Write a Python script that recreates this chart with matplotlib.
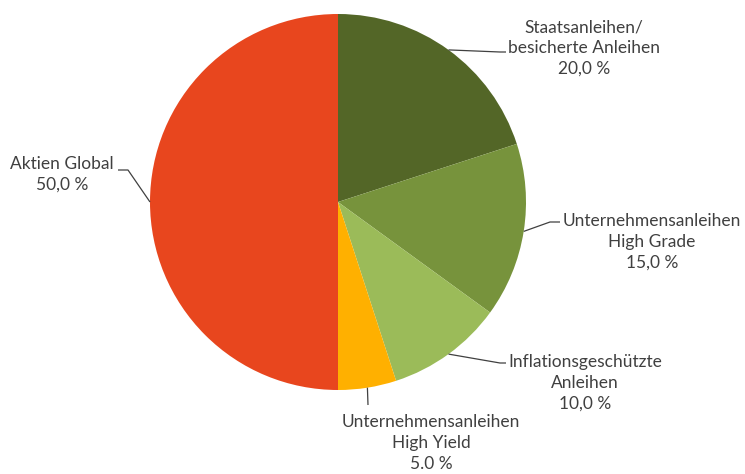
import numpy as np
import matplotlib.pyplot as plt

labels = ["Staatsanleihen/\nbesicherte Anleihen", "Unternehmensanleihen\nHigh Grade",
          "Inflationsgeschützte\nAnleihen", "Unternehmensanleihen\nHigh Yield", "Aktien Global"]
values = [20.0, 15.0, 10.0, 5.0, 50.0]
pct_text = ["20,0 %", "15,0 %", "10,0 %", "5.0 %", "50,0 %"]
colors = ["#536627", "#77933C", "#9BBB59", "#FFB000", "#E8461E"]

W, H = 745, 474
cx, cy, r = 338, H - 202, 188

fig = plt.figure(figsize=(7.45, 4.74), dpi=100)
ax = fig.add_axes([0, 0, 1, 1])
wedges, _ = ax.pie(values, colors=colors, startangle=90, counterclock=False,
                   center=(cx, cy), radius=r, frame=True,
                   wedgeprops=dict(linewidth=0))
ax.set_xlim(0, W)
ax.set_ylim(0, H)
ax.set_aspect("equal")
ax.axis("off")

# label centre (x, y in pixels from top) and leader elbow / end points
layout = [
    dict(text=(584, 48), elbow=(500, 52), end=(506, 52)),
    dict(text=(652, 242), elbow=(550, 222), end=(560, 222)),
    dict(text=(585, 383), elbow=(500, 363), end=(506, 363)),
    dict(text=(431, 443), elbow=(368, 405), end=(368, 405)),
    dict(text=(62, 174), elbow=(128, 170), end=(118, 170)),
]

for w, lab, pct, lo in zip(wedges, labels, pct_text, layout):
    ang = np.deg2rad((w.theta1 + w.theta2) / 2)
    ex, ey = cx + r * np.cos(ang), cy + r * np.sin(ang)
    xs = [ex, lo["elbow"][0], lo["end"][0]]
    ys = [ey, H - lo["elbow"][1], H - lo["end"][1]]
    ax.plot(xs, ys, color="#404040", lw=0.9, solid_capstyle="butt")
    ax.text(lo["text"][0], H - lo["text"][1], lab + "\n" + pct, ha="center", va="center",
            fontsize=12.5, family="Lato", color="#404040", linespacing=1.35)

fig.savefig("out.png", dpi=100)
